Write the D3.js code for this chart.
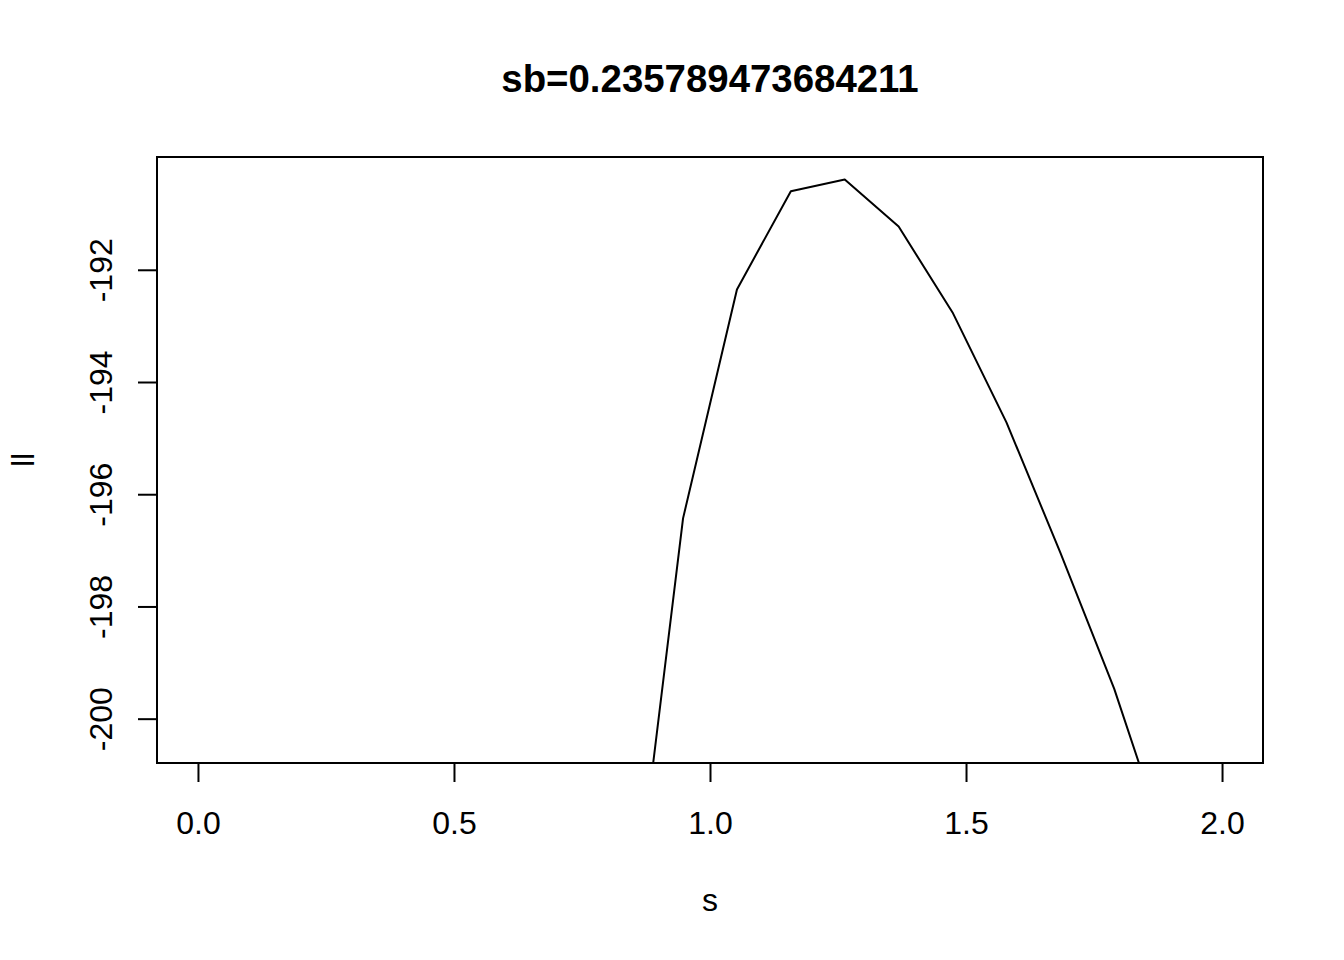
<!DOCTYPE html>
<html>
<head>
<meta charset="utf-8">
<script src="https://cdn.jsdelivr.net/npm/d3@7"></script>
<style>
  html, body { margin: 0; padding: 0; background: #fff; }
  svg text { font-family: "Liberation Sans", Arial, Helvetica, sans-serif; fill: #000; }
</style>
</head>
<body>
<svg id="chart" width="1344" height="960"></svg>
<script>
// ---- data ----
const sValues = [0.8421053, 0.9473684, 1.0526316, 1.1578947, 1.2631579, 1.3684211,
                 1.4736842, 1.5789474, 1.6842105, 1.7894737, 1.8947368, 2.0];
const llValues = [-204.3, -196.43, -192.35, -190.60, -190.39, -191.23,
                  -192.76, -194.72, -197.04, -199.47, -202.35, -205.6];
const xTicks = [0.0, 0.5, 1.0, 1.5, 2.0];
const xTickLabels = ["0.0", "0.5", "1.0", "1.5", "2.0"];
const yTicks = [-200, -198, -196, -194, -192];
const yTickLabels = ["-200", "-198", "-196", "-194", "-192"];
const xLim = [0, 2];
const yLim = [-200.39, -190.39];
const titleText = "sb=0.235789473684211";
const xLabel = "s";
const yLabel = "ll";

// ---- layout ----
const W = 1344, H = 960;
const plot = { left: 157, right: 1263, top: 157, bottom: 763 };
const pad = (lim) => { const d = (lim[1] - lim[0]) * 0.04; return [lim[0] - d, lim[1] + d]; };

const x = d3.scaleLinear().domain(pad(xLim)).range([plot.left, plot.right]);
const y = d3.scaleLinear().domain(pad(yLim)).range([plot.bottom, plot.top]);

const svg = d3.select("#chart");
svg.append("rect").attr("width", W).attr("height", H).attr("fill", "#fff");

svg.append("defs").append("clipPath").attr("id", "clip")
  .append("rect")
  .attr("x", plot.left).attr("y", plot.top)
  .attr("width", plot.right - plot.left).attr("height", plot.bottom - plot.top);

// line
const line = d3.line().x((d, i) => x(sValues[i])).y(d => y(d));
svg.append("path")
  .datum(llValues)
  .attr("clip-path", "url(#clip)")
  .attr("fill", "none")
  .attr("stroke", "#000")
  .attr("stroke-width", 2)
  .attr("stroke-linejoin", "round")
  .attr("d", line);

// box
svg.append("rect")
  .attr("x", plot.left).attr("y", plot.top)
  .attr("width", plot.right - plot.left).attr("height", plot.bottom - plot.top)
  .attr("fill", "none").attr("stroke", "#000").attr("stroke-width", 2);

// x axis
const xAxis = d3.axisBottom(x).tickValues(xTicks)
  .tickFormat((d, i) => xTickLabels[i]).tickSize(19).tickPadding(28);
const gx = svg.append("g").attr("transform", `translate(0,${plot.bottom})`).call(xAxis);
gx.select(".domain").attr("d", `M${x(xTicks[0])},0H${x(xTicks[xTicks.length - 1])}`)
  .attr("stroke", "#000").attr("stroke-width", 2);
gx.selectAll(".tick line").attr("stroke", "#000").attr("stroke-width", 2);
gx.selectAll(".tick text").attr("font-size", 32).attr("dy", null)
  .attr("y", 71).attr("dominant-baseline", "alphabetic")
  .style("font-family", '"Liberation Sans", Arial, Helvetica, sans-serif').attr("fill", "#000");

// y axis
const yAxis = d3.axisLeft(y).tickValues(yTicks)
  .tickFormat((d, i) => yTickLabels[i]).tickSize(19);
const gy = svg.append("g").attr("transform", `translate(${plot.left},0)`).call(yAxis);
gy.select(".domain").attr("d", `M0,${y(yTicks[0])}V${y(yTicks[yTicks.length - 1])}`)
  .attr("stroke", "#000").attr("stroke-width", 2);
gy.selectAll(".tick line").attr("stroke", "#000").attr("stroke-width", 2);
gy.selectAll(".tick text")
  .attr("x", null).attr("dy", null)
  .attr("transform", "translate(-45,0) rotate(-90)")
  .attr("text-anchor", "middle")
  .attr("font-size", 32)
  .style("font-family", '"Liberation Sans", Arial, Helvetica, sans-serif').attr("fill", "#000");

// title
svg.append("text")
  .attr("x", (plot.left + plot.right) / 2).attr("y", 92)
  .attr("text-anchor", "middle")
  .attr("font-size", 38.4).attr("font-weight", "bold")
  .text(titleText);

// x label
svg.append("text")
  .attr("x", (plot.left + plot.right) / 2).attr("y", 911)
  .attr("text-anchor", "middle").attr("font-size", 32)
  .text(xLabel);

// y label
svg.append("text")
  .attr("transform", `translate(34,${(plot.top + plot.bottom) / 2}) rotate(-90)`)
  .attr("text-anchor", "middle").attr("font-size", 32)
  .text(yLabel);
</script>
</body>
</html>
